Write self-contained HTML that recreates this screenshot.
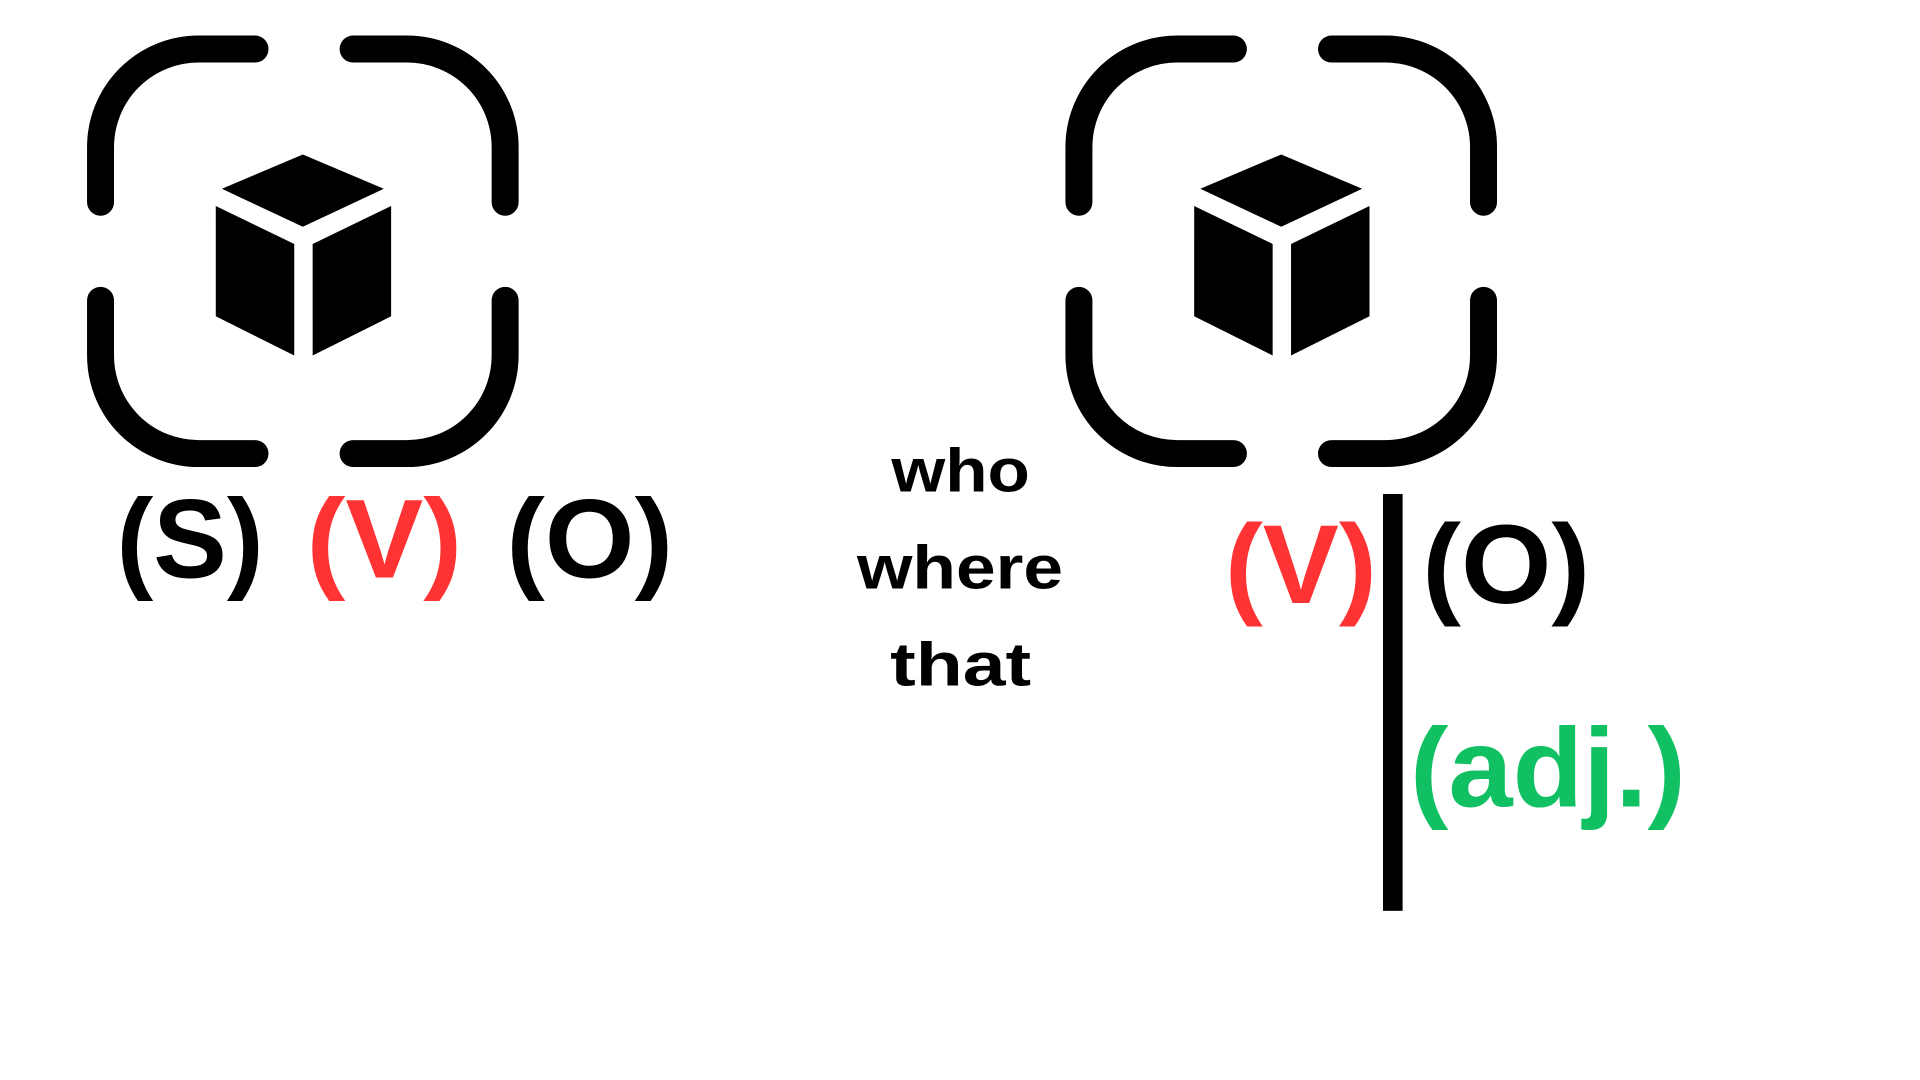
<!DOCTYPE html>
<html><head><meta charset="utf-8"><style>
html,body{margin:0;padding:0;background:#fff;width:1920px;height:1080px;overflow:hidden}
svg{display:block}
text{font-family:"Liberation Sans",sans-serif;font-weight:bold}
</style></head><body>
<svg width="1920" height="1080" viewBox="0 0 1566 881" preserveAspectRatio="none" xmlns="http://www.w3.org/2000/svg">
<defs>
<g id="frame">
<g fill="none" stroke="#000" stroke-width="22" stroke-linecap="round">
<path d="M82,165 L82,120 A80,80 0 0 1 162,40 L208,40"/>
<path d="M288,40 L332,40 A80,80 0 0 1 412,120 L412,165"/>
<path d="M82,245 L82,290 A80,80 0 0 0 162,370 L208,370"/>
<path d="M288,370 L332,370 A80,80 0 0 0 412,290 L412,245"/>
</g>
<polygon points="247,126 313,154 247,185 181,154" fill="#000"/>
<polygon points="176,168 240,199 240,290 176,258" fill="#000"/>
<polygon points="255,199 319,168 319,258 255,290" fill="#000"/>
</g>
</defs>
<use href="#frame"/>
<use href="#frame" x="798"/>
<g font-size="92">
<text x="95" y="471" textLength="120" lengthAdjust="spacingAndGlyphs">(S)</text>
<text x="250" y="471" fill="#ff3333" textLength="127" lengthAdjust="spacingAndGlyphs">(V)</text>
<text x="413" y="471" textLength="136" lengthAdjust="spacingAndGlyphs">(O)</text>
<text x="999" y="492" fill="#ff3333" textLength="124" lengthAdjust="spacingAndGlyphs">(V)</text>
<text x="1160" y="492" textLength="137" lengthAdjust="spacingAndGlyphs">(O)</text>
<text x="1150" y="658" fill="#11c062" textLength="225" lengthAdjust="spacingAndGlyphs">(adj.)</text>
</g>
<g font-size="50">
<text x="727" y="401" textLength="113" lengthAdjust="spacingAndGlyphs">who</text>
<text x="699" y="480" textLength="168" lengthAdjust="spacingAndGlyphs">where</text>
<text x="726" y="559" textLength="115" lengthAdjust="spacingAndGlyphs">that</text>
</g>
<rect x="1128" y="403" width="16" height="340" fill="#000"/>
</svg>
</body></html>
